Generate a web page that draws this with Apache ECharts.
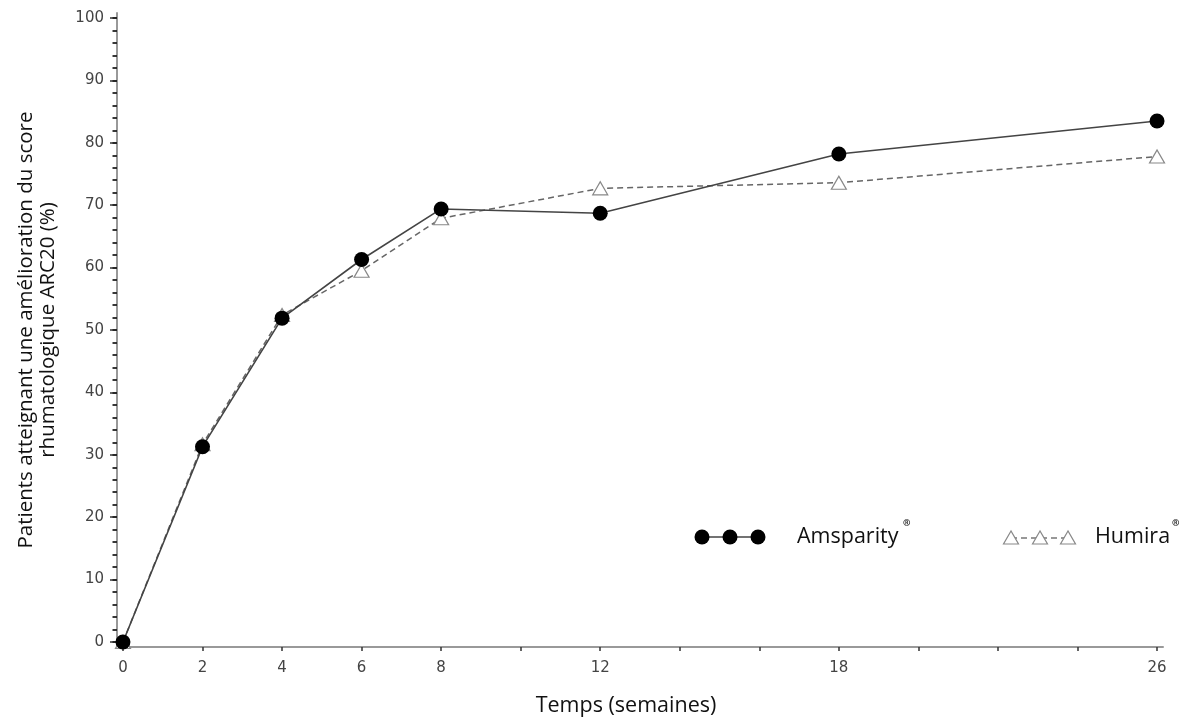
<!DOCTYPE html>
<html><head><meta charset="utf-8">
<script src="https://cdn.jsdelivr.net/npm/echarts@6/dist/echarts.min.js"></script>
<style>html,body{margin:0;padding:0;background:#fff}#c{width:1183px;height:717px}</style>
</head><body><div id="c"></div>
<script>
const weeks = [0, 2, 4, 6, 8, 12, 18, 26];
const amsparity = [0, 31.3, 51.9, 61.3, 69.4, 68.7, 78.2, 83.5];
const humira = [0, 31.7, 52.4, 59.5, 67.9, 72.7, 73.6, 77.8];
const xTickValues = [0, 2, 4, 6, 8, 10, 12, 14, 16, 18, 20, 22, 24, 26];
const xLabelValues = [0, 2, 4, 6, 8, 12, 18, 26];
const yMajorValues = [0, 10, 20, 30, 40, 50, 60, 70, 80, 90, 100];
const yMinorValues = [];
for (let v = 0; v <= 100; v += 2) yMinorValues.push(v);
const seriesNames = ['Amsparity', 'Humira'];

const chart = echarts.init(document.getElementById('c'), null, {renderer: 'canvas'});
const tickFont = {fontFamily: 'DejaVu Sans', fontSize: 15, color: '#444'};
const nameFont = {fontFamily: 'Open Sans', color: '#111'};

chart.setOption({
  animation: false,
  backgroundColor: '#fff',
  grid: {left: 117, right: 20, top: 13, bottom: 70, outerBoundsMode: 'none'},
  xAxis: {
    type: 'value', min: -0.15, max: 26.15,
    name: 'Temps (semaines)', nameLocation: 'middle', nameGap: 48,
    nameTextStyle: Object.assign({}, nameFont, {fontSize: 21.5, padding: [0, 28, 0, 0]}),
    axisLine: {show: true, onZero: false, lineStyle: {color: '#999', width: 2}},
    axisTick: {show: true, customValues: xTickValues, length: 4, lineStyle: {color: '#333', width: 1.5}},
    axisLabel: Object.assign({customValues: xLabelValues, margin: 14}, tickFont),
    splitLine: {show: false}
  },
  yAxis: [{
    type: 'value', min: -0.8, max: 100.8, position: 'left',
    name: 'Patients atteignant une amélioration du score\nrhumatologique ARC20 (%)',
    nameLocation: 'middle', nameGap: 58,
    nameTextStyle: Object.assign({}, nameFont, {fontSize: 20.5, lineHeight: 22}),
    axisLine: {show: true, onZero: false, lineStyle: {color: '#999', width: 2}},
    axisTick: {show: true, customValues: yMajorValues, length: 7, lineStyle: {color: '#333', width: 1.5}},
    axisLabel: Object.assign({customValues: yMajorValues, margin: 13}, tickFont),
    splitLine: {show: false}
  }, {
    type: 'value', min: -0.8, max: 100.8, position: 'left', gridIndex: 0,
    axisLine: {show: false, onZero: false},
    axisTick: {show: true, customValues: yMinorValues, length: 4.5, lineStyle: {color: '#222', width: 1.8}},
    axisLabel: {show: false},
    splitLine: {show: false}
  }],
  series: [{
    name: seriesNames[1], type: 'line', clip: false, z: 2,
    data: weeks.map((w, i) => [w, humira[i]]),
    symbol: 'triangle', symbolSize: [15, 13],
    itemStyle: {color: '#fff', borderColor: '#888', borderWidth: 1.2},
    lineStyle: {color: '#666', width: 1.5, type: [6, 4]}
  }, {
    name: seriesNames[0], type: 'line', clip: false, z: 3,
    data: weeks.map((w, i) => [w, amsparity[i]]),
    symbol: 'circle', symbolSize: 15,
    itemStyle: {color: '#000', borderWidth: 0},
    lineStyle: {color: '#444', width: 1.6}
  }],
  graphic: [
    {type: 'line', shape: {x1: 702, y1: 537, x2: 758, y2: 537}, style: {stroke: '#444', lineWidth: 1.6}},
    {type: 'circle', shape: {cx: 702, cy: 537, r: 7.5}, style: {fill: '#000'}},
    {type: 'circle', shape: {cx: 730, cy: 537, r: 7.5}, style: {fill: '#000'}},
    {type: 'circle', shape: {cx: 758, cy: 537, r: 7.5}, style: {fill: '#000'}},
    {type: 'text', x: 797, y: 537, style: {text: seriesNames[0], fontFamily: 'Open Sans', fontSize: 21.5, fill: '#111', verticalAlign: 'middle'}},
    {type: 'text', x: 903, y: 519, style: {text: '®', fontFamily: 'Open Sans', fontSize: 9, fontWeight: 'bold', fill: '#111', verticalAlign: 'top'}},
    {type: 'line', shape: {x1: 1011, y1: 538, x2: 1068, y2: 538}, style: {stroke: '#777', lineWidth: 1.3, lineDash: [6, 4]}},
    {type: 'polygon', shape: {points: [[1011, 531], [1003.5, 544], [1018.5, 544]]}, style: {fill: '#fff', stroke: '#888', lineWidth: 1.2}},
    {type: 'polygon', shape: {points: [[1040, 531], [1032.5, 544], [1047.5, 544]]}, style: {fill: '#fff', stroke: '#888', lineWidth: 1.2}},
    {type: 'polygon', shape: {points: [[1068, 531], [1060.5, 544], [1075.5, 544]]}, style: {fill: '#fff', stroke: '#888', lineWidth: 1.2}},
    {type: 'text', x: 1095, y: 537, style: {text: seriesNames[1], fontFamily: 'Open Sans', fontSize: 21.5, fill: '#111', verticalAlign: 'middle'}},
    {type: 'text', x: 1172, y: 519, style: {text: '®', fontFamily: 'Open Sans', fontSize: 9, fontWeight: 'bold', fill: '#111', verticalAlign: 'top'}}
  ]
});
</script>
</body></html>
